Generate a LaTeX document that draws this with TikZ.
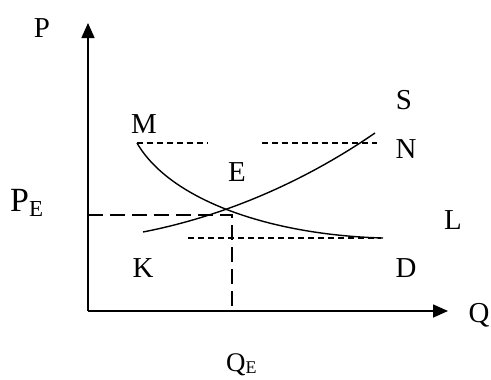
\documentclass[tikz,border=0pt]{standalone}
\usepackage{fontspec}
\setmainfont{Liberation Serif}
\usetikzlibrary{arrows.meta}
\begin{document}
\begin{tikzpicture}[x=1bp,y=-1bp,
  lbl/.style={inner sep=0pt,anchor=base,font=\fontsize{29}{33}\selectfont},
  axis/.style={line width=1.6bp,-{Triangle[length=15bp,width=13bp]}},
  curve/.style={line width=1.4bp},
  shortdash/.style={line width=1.4bp,dash pattern=on 6bp off 4bp},
  longdash/.style={line width=1.6bp,dash pattern=on 15bp off 7bp}]
\useasboundingbox (0,0) rectangle (491,379);
\coordinate (O) at (88,311);
\coordinate (Ytop) at (88,23);
\coordinate (Xend) at (448,311);
\draw[axis] (O) -- (Ytop);
\draw[axis] (O) -- (Xend);
% curves
\coordinate (Mstart) at (137,143);
\coordinate (Dend) at (383,238);
\coordinate (Kstart) at (143,232);
\coordinate (Send) at (375,133);
\draw[curve] (Mstart) .. controls (170,200) and (270,235) .. (Dend);
\draw[curve] (Kstart) .. controls (220,217) and (300,184.5) .. (Send);
% dashed lines
\coordinate (T1) at (208,143);
\coordinate (T2) at (262,143);
\coordinate (T3) at (377,143);
\draw[shortdash] (Mstart) -- (T1);
\draw[shortdash] (T2) -- (T3);
\coordinate (B1) at (188,238);
\coordinate (B2) at (381,238);
\draw[shortdash] (B1) -- (B2);
\coordinate (PEa) at (88,215);
\coordinate (PEb) at (232,215);
\coordinate (QEb) at (232,311);
\draw[longdash] (PEa) -- (PEb) -- (QEb);
% labels
\node[lbl] (P) at (42,37) {P};
\node[lbl] (S) at (404,109) {S};
\node[lbl] (M) at (144,133) {M};
\node[lbl] (N) at (406,158) {N};
\node[lbl] (E) at (237,181) {E};
\node[lbl] (L) at (453,229) {L};
\node[lbl] (K) at (143,277) {K};
\node[lbl] (D) at (406,277) {D};
\node[lbl] (Q) at (479,322) {Q};
\node[inner sep=0pt,anchor=base west] (PE) at (10,211) {\fontsize{34}{38}\selectfont P\raisebox{-5bp}{\fontsize{23}{26}\selectfont E}};
\node[inner sep=0pt,anchor=base west] (QE) at (226,371) {\fontsize{27}{30}\selectfont Q\raisebox{-2bp}{\fontsize{18}{20}\selectfont E}};
\end{tikzpicture}
\end{document}
